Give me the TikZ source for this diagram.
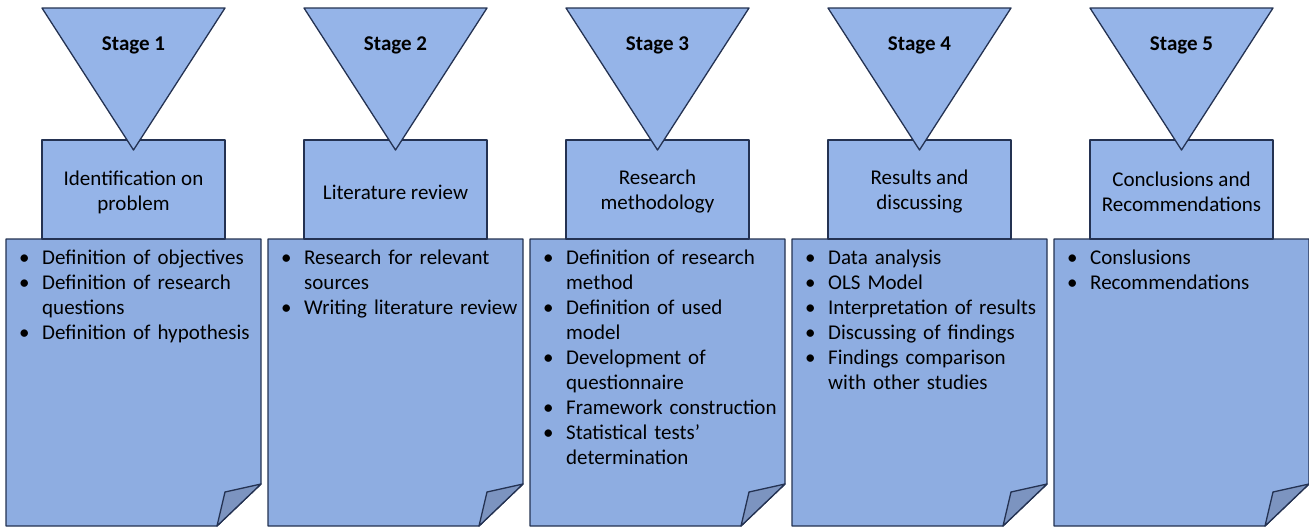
\documentclass[tikz,border=0pt]{standalone}
\usepackage{fontspec}
\setmainfont{Carlito}

\definecolor{boxblue}{RGB}{149,180,232}
\definecolor{sheetblue}{RGB}{142,173,225}
\definecolor{flapblue}{RGB}{124,148,192}
\definecolor{edgeblue}{RGB}{36,50,82}

\tikzset{
  outline/.style={draw=edgeblue, line width=1.3pt, line join=round},
  sheet/.style={outline, fill=sheetblue},
  flap/.style={outline, fill=flapblue},
  tri/.style={outline, fill=boxblue},
  headbox/.style={outline, fill=boxblue, minimum width=183pt, minimum height=99pt},
  headtext/.style={align=center, inner sep=0pt, font=\fontsize{21}{25}\selectfont},
  bodytext/.style={text width=245pt, inner sep=0pt, align=left,
    font=\fontsize{21}{25}\selectfont},
  stagelabel/.style={font=\fontsize{21}{25}\selectfont\bfseries}
}

% voce con punto elenco
\newcommand{\itm}[1]{\hangindent=23pt\hangafter=1\noindent\makebox[23pt][l]{\textbullet}#1\par}

\begin{document}
\begin{tikzpicture}[x=1pt,y=-1pt]
\useasboundingbox (0,0) rectangle (1309,528);

% Parametri colonne
\def\pitch{262} % passo tra colonne
\def\pw{255}    % larghezza foglio

\foreach \i/\head/\body in {
  1/{Identification on\\problem}/{\itm{Definition of objectives}\itm{Definition of research\newline questions}\itm{Definition of hypothesis}},
  2/{Literature review}/{\itm{Research for relevant\newline sources}\itm{Writing literature review}},
  3/{Research\\methodology}/{\itm{Definition of research\newline method}\itm{Definition of used\newline model}\itm{Development of\newline questionnaire}\itm{Framework construction}\itm{Statistical tests’\newline determination}},
  4/{Results and\\discussing}/{\itm{Data analysis}\itm{OLS Model}\itm{Interpretation of results}\itm{Discussing of findings}\itm{Findings comparison\newline with other studies}},
  5/{Conclusions and\\Recommendations}/{\itm{Conslusions}\itm{Recommendations}}} {
    \pgfmathsetmacro{\xl}{6+(\i-1)*\pitch}
    \pgfmathsetmacro{\xr}{\xl+\pw}
    \pgfmathsetmacro{\xc}{133.5+(\i-1)*\pitch}

    % Foglio con angolo piegato
    \draw[sheet] (\xl,239) -- (\xr,239) -- (\xr,484) -- (\xr-44,526) -- (\xl,526) -- cycle;
    \draw[flap] (\xr,484) -- (\xr-36,492) -- (\xr-44,526) -- cycle;
    \node[bodytext, anchor=north west] (body\i) at (\xl+13,250) {\body};

    % Riquadro della fase
    \node[headbox] (head\i) at (\xc,189.5) {};
    \node[headtext, yshift=-2.5pt] (title\i) at (head\i.center) {\head};

    % Triangolo con etichetta
    \draw[tri] (\xc-91.5,8) -- (\xc+91.5,8) -- (\xc,150) -- cycle;
    \node[stagelabel] (stage\i) at (\xc,45) {Stage \i};
}

\end{tikzpicture}
\end{document}
